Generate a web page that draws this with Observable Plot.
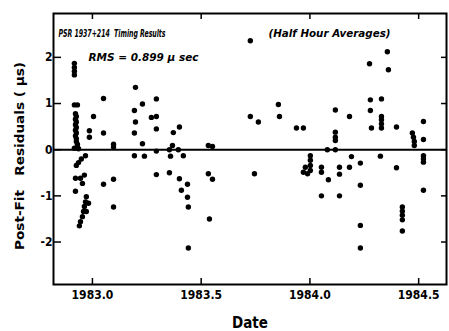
<!DOCTYPE html>
<html><head><meta charset="utf-8">
<script src="https://cdn.jsdelivr.net/npm/d3@7"></script>
<script src="https://cdn.jsdelivr.net/npm/@observablehq/plot@0.6"></script>
<style>body{margin:0;background:#fff} svg text{white-space:pre}</style>
</head><body><div id="chart"></div>
<script>
// Decimal-year dates and post-fit residuals (µs)
const dates = [
  1982.917,1982.917,1982.917,1982.917,1982.917,1982.931,1982.922,1982.926,1982.922,1982.926,
  1982.922,1982.926,1982.922,1982.926,1982.922,1982.926,1982.926,1982.931,1982.931,1982.936,
  1982.917,1982.986,1982.986,1983.005,1983.051,1983.051,1983.097,1983.097,1982.968,1982.949,
  1982.936,1982.926,1982.963,1982.945,1982.922,1982.954,1982.922,1982.972,1982.968,1982.982,
  1982.963,1982.959,1982.972,1982.954,1982.945,1982.940,1983.051,1983.097,1983.097,
  1983.198,1983.230,1983.294,1983.193,1983.198,1983.193,1983.230,1983.193,1983.239,1983.271,
  1983.294,1983.294,1983.294,1983.294,1983.354,1983.372,1983.400,1983.368,1983.354,1983.359,
  1983.395,1983.418,1983.400,1983.437,1983.409,1983.437,1983.441,1983.441,1983.533,1983.552,
  1983.533,1983.552,1983.538,
  1983.726,1983.726,1983.763,1983.745,1983.855,1983.860,1983.938,1983.970,1984.117,1984.117,
  1984.117,1984.117,1984.080,1984.117,1984.002,1984.002,1984.002,1984.002,1983.979,1983.970,
  1983.989,1984.053,1984.053,1984.085,1984.136,1984.136,1984.053,1984.136,1984.182,1984.191,
  1984.182,1984.232,1984.232,1984.232,1984.232,1984.274,1984.278,1984.329,1984.278,1984.283,
  1984.329,1984.329,1984.329,1984.329,1984.324,1984.356,1984.361,1984.398,1984.398,1984.425,
  1984.425,1984.425,1984.425,1984.425,1984.471,1984.476,1984.480,1984.480,1984.522,1984.522,
  1984.522,1984.522,1984.522,1984.522
];
const residuals = [
  1.87,1.78,1.70,1.62,0.97,0.97,0.78,0.72,0.66,0.60,
  0.54,0.48,0.42,0.36,0.30,0.24,0.18,0.12,0.06,0.02,
  0.03,0.41,0.27,0.72,1.11,0.36,0.12,0.06,-0.13,-0.20,
  -0.28,-0.34,-0.55,-0.62,-0.62,-0.73,-0.90,-1.02,-1.13,-1.16,
  -1.23,-1.34,-1.34,-1.45,-1.56,-1.65,-0.75,-0.64,-1.24,
  1.35,0.99,1.10,0.85,0.60,0.36,0.13,-0.13,-0.14,0.70,
  0.72,0.45,-0.03,-0.54,-0.50,0.37,0.49,0.09,0.00,-0.14,
  0.00,-0.13,-0.63,-0.75,-0.88,-1.03,-1.24,-2.13,0.09,0.07,
  -0.52,-0.64,-1.50,
  2.36,0.72,0.60,-0.52,0.98,0.72,0.47,0.47,0.86,0.38,
  0.27,0.20,0.00,0.00,-0.13,-0.23,-0.34,-0.45,-0.38,-0.49,
  -0.52,-0.38,-0.49,-0.65,-0.38,-0.53,-1.00,-1.00,0.72,-0.15,
  -0.38,-0.29,-0.77,-1.64,-2.13,1.86,1.08,1.10,0.85,0.47,
  0.72,0.65,0.56,0.47,-0.14,2.12,1.73,0.49,-0.39,-1.24,
  -1.33,-1.42,-1.52,-1.76,0.36,0.27,0.18,0.09,0.61,0.22,
  -0.13,-0.20,-0.27,-0.88
];
const xTicks = [1983.0, 1983.5, 1984.0, 1984.5];
const xTickLabels = ["1983.0", "1983.5", "1984.0", "1984.5"];
const yTicks = [-2, -1, 0, 1, 2];
const yTickLabels = ["-2", "-1", "0", "1", "2"];
const titleText = "PSR 1937+214  Timing Results";
const noteText = "(Half Hour Averages)";
const rmsText = "RMS = 0.899 \u00b5 sec";
const xLabel = "Date";
const yLabel = "Post-Fit   Residuals ( \u00b5s)";

const data = dates.map((d, i) => ({date: d, res: residuals[i]}));

const plot = Plot.plot({
  width: 449, height: 331,
  marginLeft: 53, marginRight: 3, marginTop: 13, marginBottom: 47,
  style: {fontFamily: "DejaVu Sans Condensed", fontWeight: "bold", background: "#fff", color: "#000"},
  x: {domain: [1982.821, 1984.628]},
  y: {domain: [-2.92, 2.95]},
  marks: [
    Plot.frame({strokeWidth: 2}),
    Plot.ruleY([0], {strokeWidth: 2}),
    Plot.axisX(xTicks, {anchor: "bottom", tickSize: -6, fill: "none", label: null, strokeWidth: 1.5}),
    Plot.axisX(xTicks, {anchor: "top", tickSize: -5, fill: "none", label: null, strokeWidth: 1.5}),
    Plot.axisX(xTicks, {anchor: "bottom", tickSize: 0, tickPadding: 6, fontSize: 12, label: null,
      tickFormat: d => xTickLabels[xTicks.indexOf(d)]}),
    Plot.axisY(yTicks, {anchor: "left", tickSize: -8, fill: "none", label: null, strokeWidth: 1.5}),
    Plot.axisY(yTicks, {anchor: "right", tickSize: -6, fill: "none", label: null, strokeWidth: 1.5}),
    Plot.axisY(yTicks, {anchor: "left", tickSize: 0, tickPadding: 1, fontSize: 12, label: null,
      tickFormat: d => yTickLabels[yTicks.indexOf(d)]}),
    Plot.dot(data, {x: "date", y: "res", r: 2.7, fill: "black"}),
    Plot.text([titleText], {text: d => d, frameAnchor: "top-left", textAnchor: "start", lineAnchor: "middle",
      dx: 5, dy: 20, fontSize: 11, fontStyle: "italic"}),
    Plot.text([noteText], {text: d => d, frameAnchor: "top-left", textAnchor: "start", lineAnchor: "middle",
      dx: 215, dy: 20, fontSize: 11, fontStyle: "italic"}),
    Plot.text([rmsText], {text: d => d, frameAnchor: "top-left", textAnchor: "start", lineAnchor: "middle",
      dx: 35, dy: 44, fontSize: 11, fontStyle: "italic"}),
    Plot.text([xLabel], {text: d => d, frameAnchor: "bottom", textAnchor: "middle", lineAnchor: "middle",
      dy: 39, fontSize: 15}),
    Plot.text([yLabel], {text: d => d, frameAnchor: "left", textAnchor: "middle", lineAnchor: "middle",
      rotate: -90, dx: -33, dy: 7, fontSize: 12})
  ]
});
// squeeze the condensed annotation lettering to the widths seen in the reference
const squeeze = {[titleText]: 107, [noteText]: 122, [rmsText]: 110, [yLabel]: 188};
plot.querySelectorAll("text").forEach(t => {
  const L = squeeze[t.textContent];
  if (L) { t.setAttribute("textLength", L); t.setAttribute("lengthAdjust", "spacingAndGlyphs"); }
});
document.getElementById("chart").appendChild(plot);
</script>
</body></html>
